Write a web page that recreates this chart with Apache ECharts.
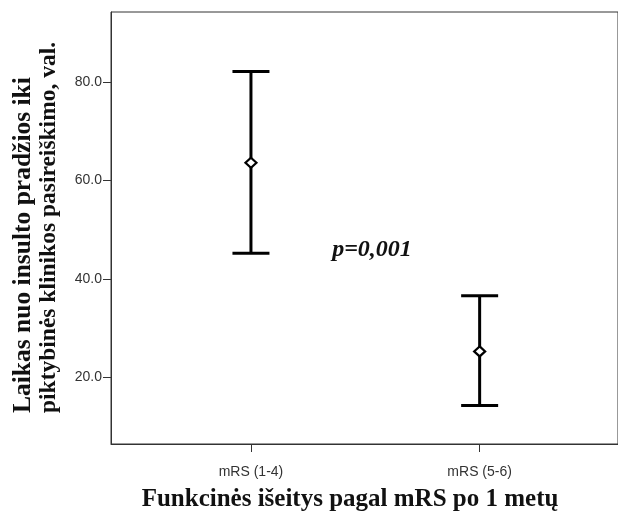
<!DOCTYPE html>
<html>
<head>
<meta charset="utf-8">
<script src="https://cdn.jsdelivr.net/npm/echarts@6/dist/echarts.min.js"></script>
<style>html,body{margin:0;padding:0;background:#fff}#c{width:618px;height:514px}</style>
</head>
<body>
<div id="c"></div>
<script>
var categories = ['mRS (1-4)', 'mRS (5-6)'];
var means = [63.6, 25.3];
var lower = [45.2, 14.3];
var upper = [82.1, 36.6];
var yTicks = [20, 40, 60, 80];
var yTitleLines = ['Laikas nuo insulto pradžios iki', 'piktybinės klinikos pasireiškimo, val.'];
var xTitle = 'Funkcinės išeitys pagal mRS po 1 metų';
var annotation = 'p=0,001';

var data = categories.map(function (c, i) { return [i + 1, lower[i], upper[i], means[i]]; });

var chart = echarts.init(document.getElementById('c'), null, { renderer: 'canvas' });
chart.setOption({
  animation: false,
  backgroundColor: '#fff',
  grid: { left: 111, top: 12, width: 510, height: 432, show: true, borderColor: '#333', borderWidth: 1 },
  xAxis: {
    type: 'value', min: 0.388, max: 2.605,
    splitLine: { show: false },
    axisLine: { show: true, lineStyle: { color: '#333', width: 1 } },
    axisTick: { show: true, customValues: [1, 2], length: 8, lineStyle: { color: '#333' } },
    axisLabel: {
      customValues: [1, 2], margin: 21, color: '#333', fontSize: 14, fontFamily: 'Liberation Sans, Arial, sans-serif',
      formatter: function (v) { return categories[Math.round(v) - 1] || ''; }
    }
  },
  yAxis: {
    type: 'value', min: 6.5, max: 94.2,
    splitLine: { show: false },
    axisLine: { show: true, lineStyle: { color: '#333', width: 1 } },
    axisTick: { show: true, customValues: yTicks, length: 8, lineStyle: { color: '#333' } },
    axisLabel: {
      customValues: yTicks, margin: 9, color: '#333', fontSize: 14, fontFamily: 'Liberation Sans, Arial, sans-serif',
      formatter: function (v) { return v.toFixed(1); }
    }
  },
  series: [{
    type: 'custom',
    data: data,
    renderItem: function (params, api) {
      var x = api.value(0);
      var lo = api.coord([x, api.value(1)]);
      var hi = api.coord([x, api.value(2)]);
      var m = api.coord([x, api.value(3)]);
      var hw = 18.5;
      var st = { stroke: '#000', lineWidth: 3, fill: null };
      return {
        type: 'group',
        children: [
          { type: 'line', shape: { x1: hi[0], y1: hi[1], x2: lo[0], y2: lo[1] }, style: st },
          { type: 'line', shape: { x1: hi[0] - hw, y1: hi[1], x2: hi[0] + hw, y2: hi[1] }, style: st },
          { type: 'line', shape: { x1: lo[0] - hw, y1: lo[1], x2: lo[0] + hw, y2: lo[1] }, style: st },
          { type: 'polygon', shape: { points: [[m[0], m[1] - 5], [m[0] + 5.5, m[1]], [m[0], m[1] + 5], [m[0] - 5.5, m[1]]] },
            style: { fill: '#fff', stroke: '#000', lineWidth: 2.2 } }
        ]
      };
    }
  }],
  graphic: [
    { type: 'text', x: 23, y: 413, rotation: Math.PI / 2,
      style: { text: yTitleLines[0], font: 'bold 25.5px "Liberation Serif", "Times New Roman", serif', fill: '#111', align: 'left', verticalAlign: 'middle' } },
    { type: 'text', x: 49, y: 413, rotation: Math.PI / 2,
      style: { text: yTitleLines[1], font: 'bold 23.5px "Liberation Serif", "Times New Roman", serif', fill: '#111', align: 'left', verticalAlign: 'middle' } },
    { type: 'text', x: 350, y: 500,
      style: { text: xTitle, font: 'bold 25px "Liberation Serif", "Times New Roman", serif', fill: '#111', align: 'center', verticalAlign: 'middle' } },
    { type: 'text', x: 372, y: 250,
      style: { text: annotation, font: 'italic bold 24px "Liberation Serif", "Times New Roman", serif', fill: '#111', align: 'center', verticalAlign: 'middle' } }
  ]
});
</script>
</body>
</html>
